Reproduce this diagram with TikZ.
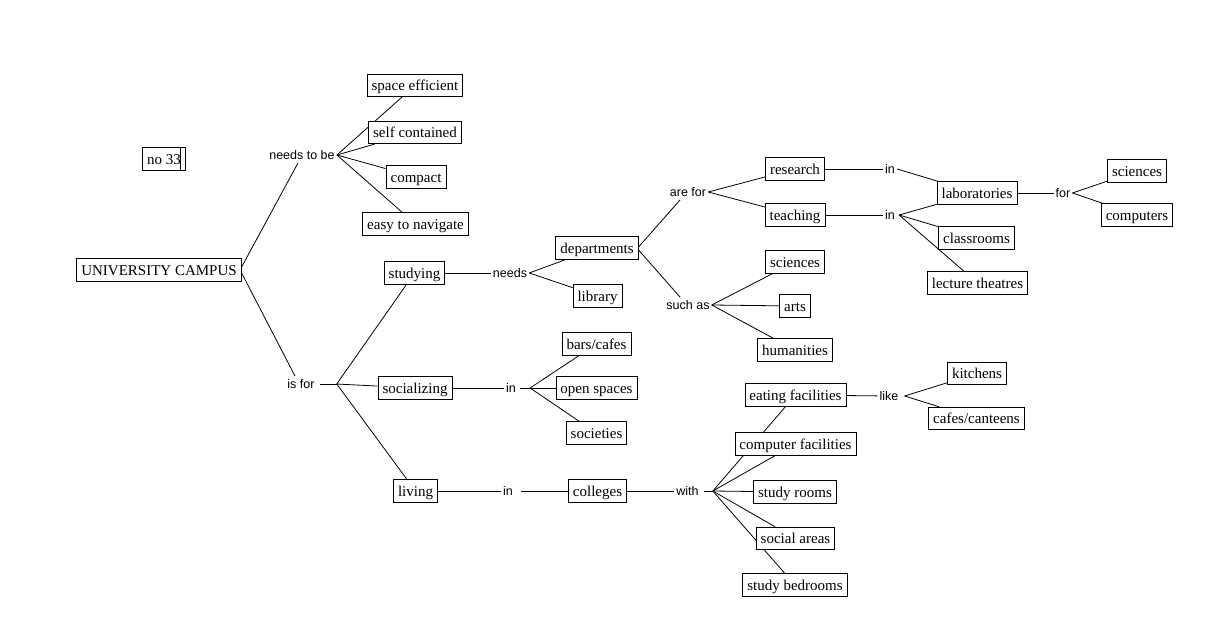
\documentclass[tikz,border=0pt]{standalone}
\usepackage{fontspec}
\setmainfont{Liberation Serif}
\newfontfamily\lnkfont{Liberation Sans}
\usetikzlibrary{backgrounds}
\begin{document}
\begin{tikzpicture}[x=1pt,y=-1pt,
  concept/.style={draw,fill=white,line width=0.8pt,font=\fontsize{15}{17}\selectfont,
    inner xsep=4.5pt,inner ysep=0pt,minimum height=22.5pt,text height=12pt,text depth=2pt},
  linkph/.style={font=\lnkfont\fontsize{12.5}{14}\selectfont,inner sep=2pt,text height=10pt,text depth=1.5pt},
  conn/.style={line width=0.8pt}]
\useasboundingbox (0,0) rectangle (1213,637);
% concepts
\node[concept] (no33) at (164,159) {no 33\hspace{4pt}};
\draw[conn] ([xshift=-5pt]no33.north east) -- ([xshift=-5pt]no33.south east);
\node[concept] (uc) at (159,270) {UNIVERSITY CAMPUS};
\node[linkph] (ntb) at (302,155) {needs to be};
\node[concept] (se) at (415,85.5) {space efficient};
\node[concept] (sc) at (415,132.5) {self contained};
\node[concept] (cp) at (416,177) {compact};
\node[concept] (en) at (415.5,224) {easy to navigate};
\node[concept] (stud) at (414.5,273) {studying};
\node[linkph] (needs) at (510,273) {needs};
\node[concept] (dep) at (597,248) {departments};
\node[concept] (lib) at (597.5,296) {library};
\node[linkph] (arefor) at (688,192) {are for};
\node[linkph] (suchas) at (688,305) {such as};
\node[concept] (res) at (795,169) {research};
\node[concept] (teach) at (795,215) {teaching};
\node[linkph] (in1) at (890,169) {in};
\node[linkph] (in2) at (890,215) {in};
\node[concept] (lab) at (977,193) {laboratories};
\node[concept] (cls) at (976.5,238) {classrooms};
\node[concept] (lt) at (977.5,283) {lecture theatres};
\node[linkph] (for) at (1063,193) {for};
\node[concept] (sci2) at (1137,171) {sciences};
\node[concept] (comp) at (1137,215) {computers};
\node[concept] (sci1) at (795,262) {sciences};
\node[concept] (arts) at (795,306) {arts};
\node[concept] (hum) at (795,350) {humanities};
\node[linkph] (isfor) at (301,384) {is for};
\node[concept] (soc) at (415,388) {socializing};
\node[linkph] (in3) at (511,388) {in};
\node[concept] (bars) at (596.5,344) {bars/cafes};
\node[concept] (open) at (596.5,388) {open spaces};
\node[concept] (socs) at (596.5,433) {societies};
\node[concept] (liv) at (415.5,491) {living};
\node[linkph] (in4) at (508,491) {in};
\node[concept] (col) at (597.5,491) {colleges};
\node[linkph] (with) at (687.5,491) {with};
\node[concept] (eat) at (795.5,395) {eating facilities};
\node[linkph] (like) at (889,396) {like};
\node[concept] (kit) at (977,373.5) {kitchens};
\node[concept] (cafes) at (976.5,418.5) {cafes/canteens};
\node[concept] (compf) at (795.5,444) {computer facilities};
\node[concept] (sroom) at (795,492) {study rooms};
\node[concept] (sarea) at (795.5,538.5) {social areas};
\node[concept] (sbed) at (795,585) {study bedrooms};
% junction points
\coordinate (jif) at ([xshift=20pt]isfor.east);
\coordinate (jin3) at ([xshift=12pt]in3.east);
\coordinate (jw) at ([xshift=12pt]with.east);
\begin{pgfonlayer}{background}
\fill[white] (0,0) rectangle (1213,637);
\draw[conn] ([yshift=3pt]uc.east) -- ([xshift=-4pt]ntb.south);
\draw[conn] ([yshift=-3pt]uc.east) -- ([xshift=-6pt]isfor.north);
\foreach \t in {se,sc,cp,en} \draw[conn] (ntb.east) -- (\t);
\draw[conn] ([xshift=3pt]isfor.east) -- (jif);
\foreach \t in {stud,soc,liv} \draw[conn] (jif) -- (\t);
\draw[conn] (stud) -- (needs);
\foreach \t in {dep,lib} \draw[conn] (needs.east) -- (\t);
\draw[conn] ([yshift=1pt]dep.east) -- ([xshift=-8pt]arefor.south);
\draw[conn] ([yshift=-2pt]dep.east) -- ([xshift=-8pt]suchas.north);
\foreach \t in {res,teach} \draw[conn] (arefor.east) -- (\t);
\foreach \t in {sci1,arts,hum} \draw[conn] (suchas.east) -- (\t);
\draw[conn] (res) -- (in1);
\draw[conn] (in1.east) -- (lab);
\draw[conn] (teach) -- (in2);
\foreach \t in {lab,cls,lt} \draw[conn] ([xshift=2pt]in2.east) -- (\t);
\draw[conn] (lab) -- (for);
\foreach \t in {sci2,comp} \draw[conn] (for.east) -- (\t);
\draw[conn] (soc) -- (in3);
\draw[conn] ([xshift=2pt]in3.east) -- (jin3);
\foreach \t in {bars,open,socs} \draw[conn] (jin3) -- (\t);
\draw[conn] (liv) -- (in4);
\draw[conn] ([xshift=6pt]in4.east) -- (col);
\draw[conn] (col) -- (with);
\draw[conn] ([xshift=3pt]with.east) -- (jw);
\foreach \t in {eat,compf,sroom,sarea,sbed} \draw[conn] (jw) -- (\t);
\draw[conn] (eat) -- (like);
\foreach \t in {kit,cafes} \draw[conn] ([xshift=4pt]like.east) -- (\t);
\end{pgfonlayer}
\end{tikzpicture}
\end{document}
